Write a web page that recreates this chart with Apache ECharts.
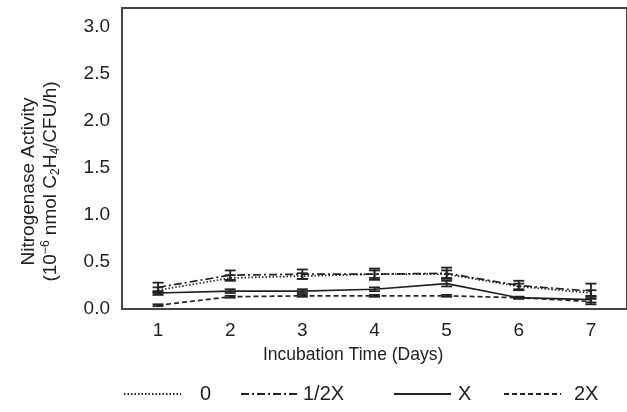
<!DOCTYPE html>
<html>
<head>
<meta charset="utf-8">
<script src="https://cdn.jsdelivr.net/npm/echarts@6/dist/echarts.min.js"></script>
<style>html,body{margin:0;padding:0;background:#fff}#c{width:627px;height:412px}</style>
</head>
<body>
<div id="c"></div>
<script>
var days = ['1', '2', '3', '4', '5', '6', '7'];
var seriesNames = ['0', '1/2X', 'X', '2X'];
var s0 = [0.20, 0.33, 0.35, 0.37, 0.37, 0.24, 0.17];
var s0Err = [0.03, 0.03, 0.03, 0.04, 0.04, 0.03, 0.03];
var sHalf = [0.23, 0.36, 0.37, 0.37, 0.38, 0.25, 0.19];
var sHalfErr = [0.05, 0.05, 0.05, 0.06, 0.06, 0.05, 0.08];
var sX = [0.17, 0.19, 0.19, 0.21, 0.27, 0.12, 0.10];
var sXErr = [0.02, 0.02, 0.02, 0.02, 0.03, 0.01, 0.03];
var s2X = [0.04, 0.13, 0.14, 0.14, 0.14, 0.12, 0.08];
var s2XErr = [0.01, 0.01, 0.01, 0.01, 0.01, 0.01, 0.03];
var yTicks = [0, 0.5, 1.0, 1.5, 2.0, 2.5, 3.0];

var FONT = 'Liberation Sans, Arial, sans-serif';
var INK = '#222';

var means = [s0, sHalf, sX, s2X];
var errs = [s0Err, sHalfErr, sXErr, s2XErr];
var dashes = [[1.5, 2], [8, 3, 2, 3], 'solid', [5, 3]];

var series = [];
means.forEach(function (m, k) {
  series.push({
    name: seriesNames[k], type: 'line', data: m, symbol: 'none', showSymbol: false,
    lineStyle: { color: INK, width: 1.7, type: dashes[k] }, itemStyle: { color: INK },
    z: 3
  });
  series.push({
    type: 'custom', name: seriesNames[k] + ' err',
    data: days.map(function (d, i) { return [i, m[i] - errs[k][i], m[i] + errs[k][i]]; }),
    renderItem: function (params, api) {
      var lo = api.coord([api.value(0), api.value(1)]);
      var hi = api.coord([api.value(0), api.value(2)]);
      var hw = 5.5;
      var st = { stroke: INK, lineWidth: 1.8 };
      return { type: 'group', children: [
        { type: 'line', shape: { x1: lo[0], y1: lo[1], x2: hi[0], y2: hi[1] }, style: st },
        { type: 'line', shape: { x1: lo[0] - hw, y1: lo[1], x2: lo[0] + hw, y2: lo[1] }, style: st },
        { type: 'line', shape: { x1: hi[0] - hw, y1: hi[1], x2: hi[0] + hw, y2: hi[1] }, style: st }
      ] };
    },
    z: 4, silent: true
  });
});

var legendPos = [123, 240, 393, 503];
var legendPad = [14, 0, 2, 8];
var legends = seriesNames.map(function (n, k) {
  return {
    data: [n], left: legendPos[k], top: 384, padding: 0, itemWidth: 57, itemHeight: 14,
    selectedMode: false,
    itemStyle: { opacity: 0 },
    textStyle: { fontFamily: FONT, fontSize: 20, color: INK, padding: [0, 0, 0, legendPad[k]] }
  };
});

var chart = echarts.init(document.getElementById('c'));
chart.setOption({
  animation: false,
  backgroundColor: '#fff',
  legend: legends,
  grid: { left: 122, top: 8, width: 512, height: 301, show: true, borderColor: '#444', borderWidth: 2, containLabel: false },
  xAxis: {
    type: 'category', data: days, boundaryGap: true,
    axisLine: { show: false }, axisTick: { show: false }, splitLine: { show: false },
    axisLabel: { margin: 12, fontFamily: FONT, fontSize: 19, color: INK }
  },
  yAxis: {
    type: 'value', min: 0, max: 3.2, interval: 0.5,
    axisLine: { show: false }, axisTick: { show: false }, splitLine: { show: false },
    axisLabel: { margin: 12, fontFamily: FONT, fontSize: 19, color: INK, showMaxLabel: false,
      formatter: function (v) { return yTicks.indexOf(v) >= 0 ? v.toFixed(1) : ''; } },
    name: '{a|Nitrogenase Activity}\n{a|(10}{sup|−6}{a| nmol C}{sub|2}{a|H}{sub|4}{a|/CFU/h)}',
    nameLocation: 'middle', nameGap: 60, nameRotate: 90,
    nameTextStyle: {
      fontFamily: FONT, color: INK, padding: [0, 46, 0, 0],
      rich: {
        a: { fontFamily: FONT, fontSize: 19, color: INK, lineHeight: 22 },
        sup: { fontFamily: FONT, fontSize: 12, color: INK, lineHeight: 10, verticalAlign: 'top' },
        sub: { fontFamily: FONT, fontSize: 12, color: INK, lineHeight: 10, verticalAlign: 'bottom' }
      }
    }
  },
  graphic: [{
    type: 'text', left: 263, top: 346,
    style: { text: 'Incubation Time (Days)', font: '17.5px ' + FONT, fill: INK }
  }],
  series: series
});
</script>
</body>
</html>
